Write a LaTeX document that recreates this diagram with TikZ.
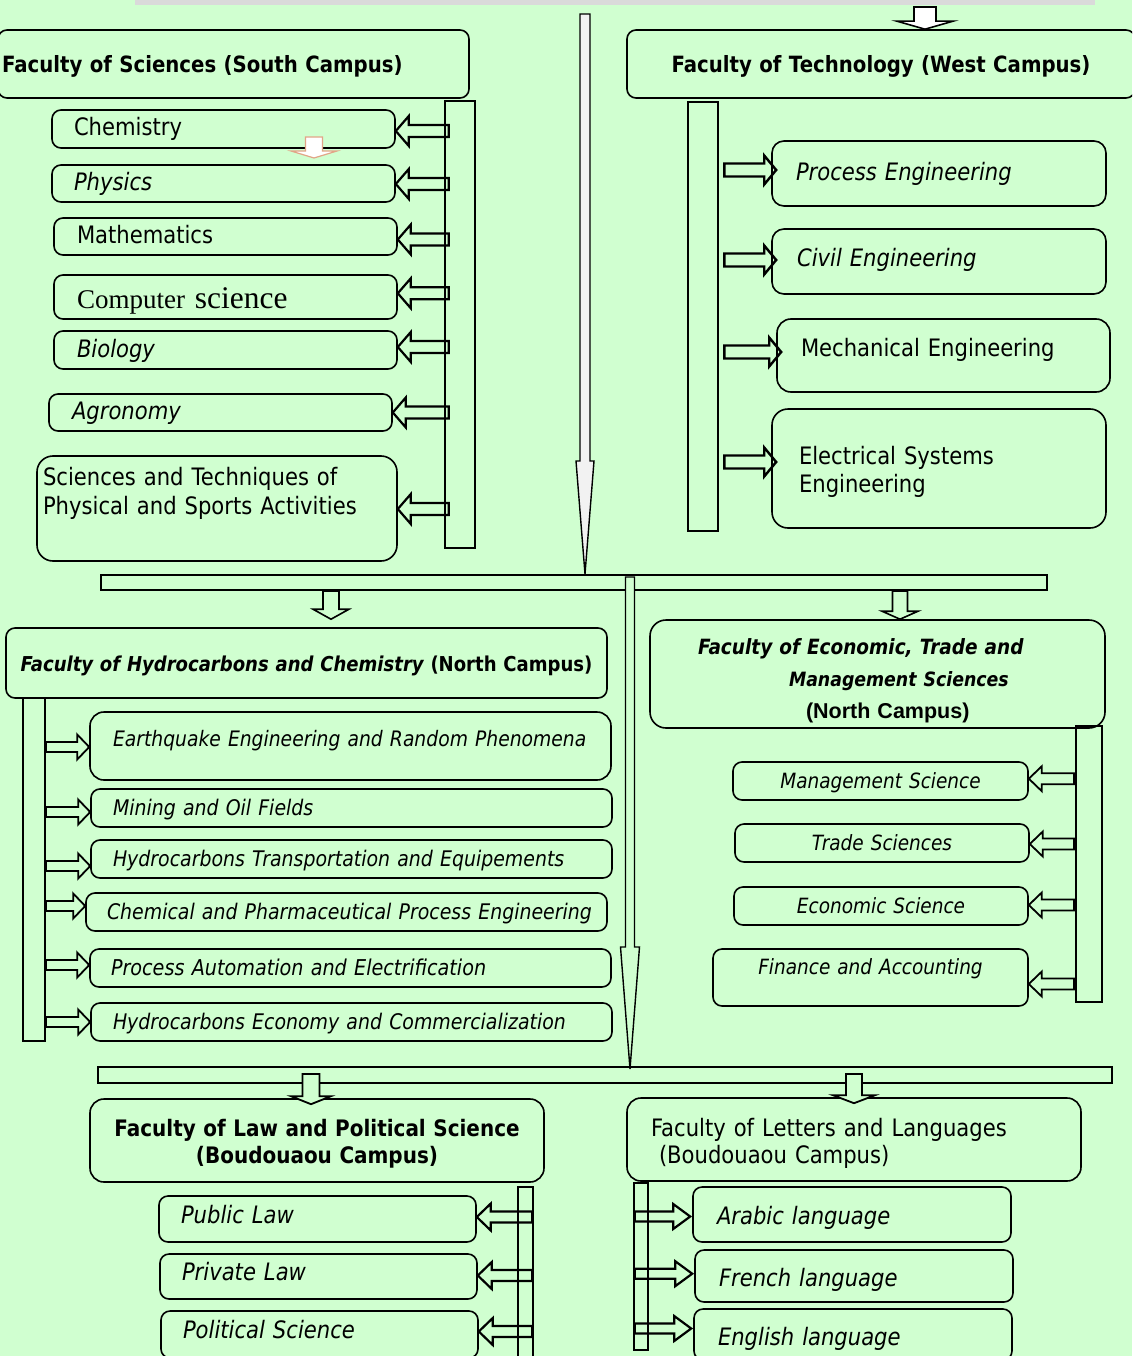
\documentclass[tikz,border=0pt]{standalone}
\usepackage{fontspec}
\setmainfont{DejaVu Sans}[FakeStretch=0.88]
\newfontfamily\timesface{Liberation Serif}
\newfontfamily\arialface{Liberation Sans}
\usetikzlibrary{calc}
\definecolor{bggreen}{RGB}{208,255,208}
\definecolor{bandgray}{RGB}{218,218,218}
\definecolor{shaftgray}{RGB}{242,242,242}
\definecolor{strayorange}{RGB}{225,165,135}
\tikzset{
  box/.style={draw, line width=1.6pt, rounded corners=9pt, align=left, inner ysep=0pt},
  nowrap/.style={execute at begin node={\leavevmode\hbox\bgroup}, execute at end node={\egroup}},
  oneline/.style={nowrap, text height=19pt, text depth=5pt},
  dims/.code n args={3}{\pgfmathsetmacro\boxtw{#1-2*#3}%
    \edef\boxnext{\noexpand\tikzset{minimum width=#1pt, minimum height=#2pt,
      inner xsep=#3pt, text width=\boxtw pt}}\boxnext},
  fs/.style 2 args={font=\fontsize{#1}{#2}\selectfont},
  bfs/.style 2 args={font=\bfseries\fontsize{#1}{#2}\selectfont},
  bar/.style={draw, line width=2pt, inner sep=0pt},
  hollow/.style n args={3}{to path={
    let \p1=(\tikztostart), \p2=(\tikztotarget),
        \n1={atan2((\y2)-(\y1),(\x2)-(\x1))}, \n2={veclen((\x2)-(\x1),(\y2)-(\y1))} in
    {[shift={(\p1)}, rotate=\n1]
     (0,-#1) -- ({\n2-#3},-#1) -- ({\n2-#3},-#2) -- (\n2,0)
     -- ({\n2-#3},#2) -- ({\n2-#3},#1) -- (0,#1) -- cycle}}},
}

\begin{document}
\begin{tikzpicture}[x=1pt,y=-1pt]
	\useasboundingbox (0,0) rectangle (1132,1356);
	\clip (0,0) rectangle (1132,1356);
	\fill[bggreen] (0,0) rectangle (1132,1356);
	\node[fill=bandgray, inner sep=0pt, minimum width=960pt, minimum height=10pt] (band) at (615,0) {};

	% Faculty of Sciences
	\node[box, bfs={22.4}{28}, nowrap, text height=23pt, text depth=5pt, dims={471}{68}{4}] (sci) at (233.5,64) {Faculty of Sciences (South Campus)};
	\node[bar, line width=2.6pt, minimum width=30pt, minimum height=447pt] (sbar) at (460,324.5) {};
	\node[box, fs={24}{29}, oneline, dims={343}{38}{22}] (chem) at (223.5,129) {Chemistry};
	\node[box, fs={24}{29}, oneline, dims={343}{37}{22}] (phys) at (223.5,183.5) {\itshape Physics};
	\node[box, fs={24}{29}, oneline, dims={343}{37}{23}] (math) at (225.5,236.5) {Mathematics};
	\node[box, oneline, text height=28pt, text depth=6pt, dims={343}{44}{23}] (comp) at (225.5,297)
		{\timesface\fontsize{27}{32}\selectfont Computer\hspace{10pt}\fontsize{31.5}{36}\selectfont science};
	\node[box, fs={24}{29}, oneline, dims={343}{38}{23}] (bio) at (225.5,350) {\itshape Biology};
	\node[box, fs={24}{29}, oneline, dims={343}{37}{23}] (agro) at (220.5,412.5) {\itshape Agronomy};
	\node[box, fs={24}{29}, rounded corners=16pt, text height=19pt, text depth=66pt, dims={360}{105}{6}] (stap) at (217,508.5)
		{Sciences and Techniques of\\Physical and Sports Activities};
	\foreach \d/\dy in {chem/2,phys/0.5,math/3,comp/-3.7,bio/-3,agro/0,stap/0.5}
		\draw[hollow={6}{15}{13}, line width=2.2pt] ($(sbar.west |- \d.east)+(5,\dy)$) to ($(\d.east)+(0,\dy)$);
	\draw[strayorange, fill=white, line width=1.2pt, hollow={8.5}{23}{7}] (314,137) to (314,158);

	% Faculty of Technology
	\node[box, bfs={22.4}{28}, nowrap, text height=23pt, text depth=5pt, align=center, dims={508}{68}{10}] (tech) at (881,64) {Faculty of Technology (West Campus)};
	\coordinate (tx) at (925,7);
	\draw[hollow={11}{28}{8}, fill=white, line width=1.6pt] (tx) to (tech.north -| tx);
	\node[bar, line width=2.6pt, minimum width=30pt, minimum height=429pt] (tbar) at (703,316.5) {};
	\node[box, fs={24}{29}, rounded corners=12pt, oneline, dims={334}{65}{24}] (proc) at (939,173.5) {\itshape Process Engineering};
	\node[box, fs={24}{29}, rounded corners=12pt, oneline, text depth=8.4pt, dims={334}{65}{25}] (civil) at (939,261.5) {\itshape Civil Engineering};
	\node[box, fs={24}{29}, rounded corners=14pt, oneline, text depth=16.4pt, dims={333}{73}{24}] (mech) at (943.5,355.5) {Mechanical Engineering};
	\node[box, fs={24}{28}, rounded corners=16pt, text height=19pt, text depth=26.4pt, dims={334}{119}{27}] (elec) at (939,468.5)
		{Electrical Systems\\Engineering};
	\foreach \d/\dy in {proc/-3.5,civil/-1.5,mech/-3.5,elec/-6.5}
		\draw[hollow={6.5}{14.5}{12}, line width=2.4pt] ($(tbar.east |- \d.west)+(5,\dy)$) to ($(\d.west)+(5,\dy)$);

	% long arrows and hubs
	\coordinate (a1) at (585,14);
	\coordinate (a2) at (630,577);
	\node[bar, minimum width=946pt, minimum height=15pt] (hub1) at (574,582.5) {};
	\node[bar, minimum width=1014pt, minimum height=16pt] (hub2) at (605,1075) {};
	\draw[hollow={5}{9}{113}, line width=1.4pt, fill=shaftgray] (a1) to (hub1.north -| a1);
	\draw[hollow={4.5}{9.5}{122}, line width=1.4pt, fill=bggreen] (a2) to ($(hub2.north -| a2)+(0,3)$);

	% Faculty of Hydrocarbons and Chemistry
	\node[box, bfs={20.5}{26}, nowrap, text height=22pt, text depth=5pt, align=center, dims={601}{70}{8}] (hydro) at (306.5,663)
		{{\itshape Faculty of Hydrocarbons and Chemistry} (North Campus)};
	\coordinate (hx) at (331,0);
	\draw[hollow={8}{18}{10}, fill=bggreen, line width=1.6pt] (hub1.south -| hx) to ($(hydro.north -| hx)+(0,-8)$);
	\node[bar, minimum width=22pt, minimum height=343pt] (hbar) at (34,869.5) {};
	\node[box, fs={21.3}{27}, rounded corners=14pt, oneline, text height=12pt, text depth=12pt, dims={521}{68}{23}] (eq) at (350.5,746) {\itshape Earthquake Engineering and Random Phenomena};
	\node[box, fs={21.5}{27}, oneline, dims={521}{38}{22}] (mine) at (351.5,808) {\itshape Mining and Oil Fields};
	\node[box, fs={21.5}{27}, oneline, dims={521}{38}{22}] (trans) at (351.5,859) {\itshape Hydrocarbons Transportation and Equipements};
	\node[box, fs={21.5}{27}, oneline, dims={521}{38}{21}] (chpe) at (346.5,912) {\itshape Chemical and Pharmaceutical Process Engineering};
	\node[box, fs={21.8}{27}, oneline, dims={521}{38}{21}] (auto) at (350.5,968) {\itshape Process Automation and Electrification};
	\node[box, fs={21.5}{27}, oneline, dims={521}{38}{22}] (hecon) at (351.5,1022) {\itshape Hydrocarbons Economy and Commercialization};
	\foreach \d/\dy in {eq/1,mine/4,trans/7,chpe/-6,auto/-3,hecon/0}
		\draw[hollow={5}{12.5}{12}, line width=1.8pt] ($(hbar.east |- \d.west)+(0,\dy)$) to ($(\d.west)+(0,\dy)$);

	% Faculty of Economic, Trade and Management Sciences
	\node[box, bfs={21}{32}, rounded corners=16pt, text height=19pt, text depth=57.6pt, dims={455}{108}{48}] (econ) at (877.5,674)
		{\itshape Faculty of Economic, Trade and\\\hspace*{91pt}{\fontsize{19.7}{32}\selectfont Management Sciences}\\\hspace*{108pt}{\arialface\upshape\fontsize{21.5}{32}\selectfont(North Campus)}};
	\coordinate (ex) at (900,0);
	\draw[hollow={7.5}{18}{8}, fill=bggreen, line width=1.6pt] (hub1.south -| ex) to (econ.north -| ex);
	\node[bar, minimum width=26pt, minimum height=276pt] (ebar) at (1089,864) {};
	\node[box, fs={21}{26}, oneline, align=center, dims={295}{38}{6}] (mgmt) at (880.5,781) {\itshape Management Science};
	\node[box, fs={21}{26}, oneline, align=center, dims={294}{38}{6}] (trade) at (882,843) {\itshape Trade Sciences};
	\node[box, fs={21}{26}, oneline, align=center, dims={294}{38}{6}] (ecosci) at (881,906) {\itshape Economic Science};
	\node[box, fs={21}{26}, oneline, text depth=24.6pt, align=center, dims={315}{57}{6}] (fin) at (870.5,977.5) {\itshape Finance and Accounting};
	\foreach \d/\dy in {mgmt/-2.3,trade/1,ecosci/-1,fin/6.5}
		\draw[hollow={5.5}{12.5}{13}, line width=1.8pt] ($(ebar.west |- \d.east)+(-1,\dy)$) to ($(\d.east)+(0,\dy)$);

	% Faculty of Law and Political Science
	\node[box, bfs={22.7}{27}, rounded corners=14pt, text height=19pt, text depth=27.4pt, align=center, dims={454}{83}{8}] (law) at (317,1140.5)
		{Faculty of Law and Political Science\\(Boudouaou Campus)};
	\coordinate (lx) at (311,0);
	\draw[hollow={8.5}{20}{8}, fill=bggreen, line width=1.8pt] ($(hub2.south -| lx)+(0,-10)$) to ($(law.north -| lx)+(0,6)$);
	\node[bar, line width=2.6pt, minimum width=15pt, minimum height=173pt] (lbar) at (525.5,1273.5) {};
	\node[box, fs={24}{29}, oneline, text depth=9.4pt, dims={317}{46}{22}] (publ) at (317.5,1219) {\itshape Public Law};
	\node[box, fs={24}{29}, oneline, text depth=10.4pt, dims={317}{45}{22}] (priv) at (318.5,1276.5) {\itshape Private Law};
	\node[box, fs={24}{29}, oneline, text depth=10.4pt, dims={317}{47}{22}] (pols) at (319.5,1334.5) {\itshape Political Science};
	\foreach \d/\dy in {publ/-2,priv/-1,pols/-3}
		\draw[hollow={5.5}{13.5}{14}, line width=2.2pt] ($(lbar.east |- \d.east)+(-2,\dy)$) to ($(\d.east)+(0,\dy)$);

	% Faculty of Letters and Languages
	\node[box, fs={24}{27}, rounded corners=14pt, text height=19pt, text depth=24.8pt, dims={454}{83}{24}] (lett) at (854,1139.5)
		{Faculty of Letters and Languages\\\hspace*{8pt}(Boudouaou Campus)};
	\coordinate (gx) at (854,0);
	\draw[hollow={8}{21}{8}, fill=bggreen, line width=1.8pt] ($(hub2.south -| gx)+(0,-10)$) to ($(lett.north -| gx)+(0,6)$);
	\node[bar, line width=2.6pt, minimum width=14pt, minimum height=167pt] (gbar) at (641,1266.5) {};
	\node[box, fs={24}{29}, oneline, text height=25.6pt, dims={318}{55}{24}] (arab) at (852,1214.5) {\itshape Arabic language};
	\node[box, fs={24}{29}, oneline, text height=26.6pt, dims={318}{52}{24}] (fren) at (854,1276) {\itshape French language};
	\node[box, fs={24}{29}, oneline, text height=27.6pt, dims={318}{51}{24}] (engl) at (853,1334.5) {\itshape English language};
	\foreach \d/\dy in {arab/2,fren/-2.3,engl/-6}
		\draw[hollow={5}{12.5}{17}, line width=2.2pt] ($(gbar.west |- \d.west)+(2,\dy)$) to ($(\d.west)+(-2,\dy)$);
\end{tikzpicture}
\end{document}
